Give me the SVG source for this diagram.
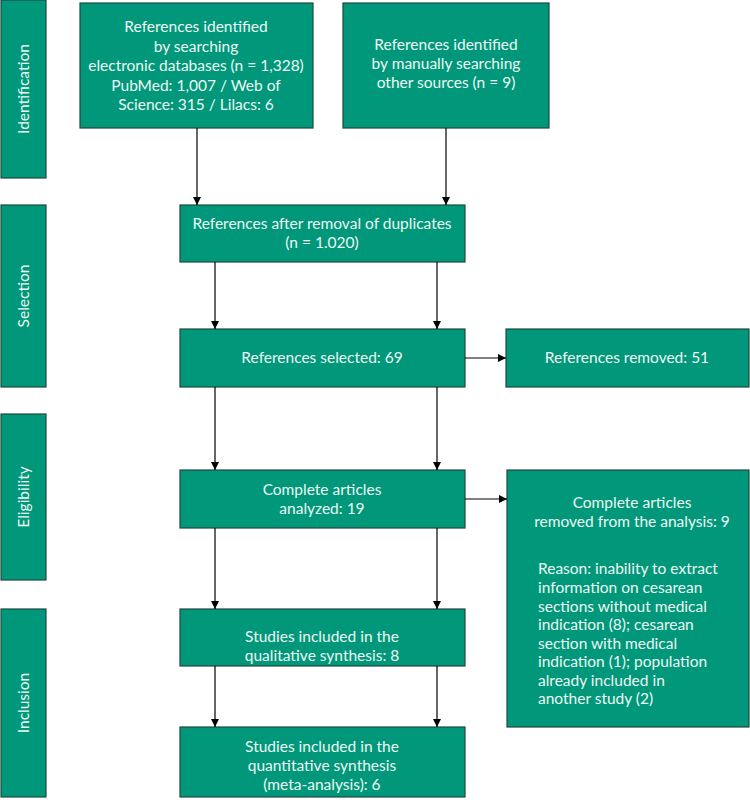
<svg xmlns="http://www.w3.org/2000/svg" width="750" height="807" viewBox="0 0 750 807">
<style>
.box{fill:#00977a;stroke:#1f4a3c;stroke-width:1.2}
.t{font-family:Lato,"Open Sans","Liberation Sans",sans-serif;font-size:15.5px;font-weight:400;fill:#eef7f3;text-anchor:middle}
.l{text-anchor:start}
.c{stroke:#000;stroke-width:1.2;fill:none;marker-end:url(#ah)}
</style>
<defs>
<marker id="ah" viewBox="0 0 8 10" refX="8" refY="5" markerWidth="8" markerHeight="10" markerUnits="userSpaceOnUse" orient="auto">
<path d="M0,1 L8,5 L0,9 Z" fill="#000"/>
</marker>
</defs>
<rect width="750" height="807" fill="#fff"/>
<g id="phase-identification"><rect class="box" x="1" y="0" width="45" height="178"/><text class="t" transform="translate(29,89) rotate(-90)">Identification</text></g>
<g id="phase-selection"><rect class="box" x="1" y="205" width="45" height="182"/><text class="t" transform="translate(29,296) rotate(-90)">Selection</text></g>
<g id="phase-eligibility"><rect class="box" x="1" y="414" width="45" height="166"/><text class="t" transform="translate(29,497) rotate(-90)">Eligibility</text></g>
<g id="phase-inclusion"><rect class="box" x="1" y="609" width="45" height="188"/><text class="t" transform="translate(29,703) rotate(-90)">Inclusion</text></g>

<g id="n-databases"><rect class="box" x="80" y="3" width="233" height="125"/>
<text class="t" x="196" y="32">References identified</text>
<text class="t" x="196" y="51.5">by searching</text>
<text class="t" x="196" y="71">electronic databases (n = 1,328)</text>
<text class="t" x="196" y="90.5">PubMed: 1,007 / Web of</text>
<text class="t" x="196" y="110">Science: 315 / Lilacs: 6</text></g>

<g id="n-manual"><rect class="box" x="343" y="3" width="206" height="125"/>
<text class="t" x="446" y="50">References identified</text>
<text class="t" x="446" y="69">by manually searching</text>
<text class="t" x="446" y="88">other sources (n = 9)</text></g>

<g id="n-duplicates"><rect class="box" x="180" y="205" width="285" height="57"/>
<text class="t" x="322" y="229">References after removal of duplicates</text>
<text class="t" x="322" y="248">(n = 1.020)</text></g>

<g id="n-selected"><rect class="box" x="180" y="329" width="285" height="58"/>
<text class="t" x="322" y="363">References selected: 69</text></g>

<g id="n-removed"><rect class="box" x="506" y="329" width="243" height="58"/>
<text class="t" x="627" y="363">References removed: 51</text></g>

<g id="n-complete"><rect class="box" x="180" y="470" width="285" height="58"/>
<text class="t" x="322" y="495">Complete articles</text>
<text class="t" x="322" y="514">analyzed: 19</text></g>

<g id="n-excluded"><rect class="box" x="507" y="470" width="242" height="257"/>
<text class="t" x="632" y="508">Complete articles</text>
<text class="t" x="632" y="527">removed from the analysis: 9</text>
<text class="t l" x="538" y="574">Reason: inability to extract</text>
<text class="t l" x="538" y="593">information on cesarean</text>
<text class="t l" x="538" y="611.5">sections without medical</text>
<text class="t l" x="538" y="630">indication (8); cesarean</text>
<text class="t l" x="538" y="648.5">section with medical</text>
<text class="t l" x="538" y="667">indication (1); population</text>
<text class="t l" x="538" y="685.5">already included in</text>
<text class="t l" x="538" y="704">another study (2)</text></g>

<g id="n-qualitative"><rect class="box" x="180" y="609" width="285" height="57"/>
<text class="t" x="322" y="642">Studies included in the</text>
<text class="t" x="322" y="661">qualitative synthesis: 8</text></g>

<g id="n-quantitative"><rect class="box" x="180" y="727" width="285" height="70"/>
<text class="t" x="322" y="752">Studies included in the</text>
<text class="t" x="322" y="771">quantitative synthesis</text>
<text class="t" x="322" y="790">(meta-analysis): 6</text></g>

<g id="connectors">
<path class="c" d="M197,128 V205"/>
<path class="c" d="M446,128 V205"/>
<path class="c" d="M215,262 V329"/>
<path class="c" d="M437,262 V329"/>
<path class="c" d="M465,358 H506"/>
<path class="c" d="M215,387 V470"/>
<path class="c" d="M437,387 V470"/>
<path class="c" d="M465,499 H507"/>
<path class="c" d="M215,528 V609"/>
<path class="c" d="M437,528 V609"/>
<path class="c" d="M215,666 V727"/>
<path class="c" d="M437,666 V727"/>
</g>
</svg>
